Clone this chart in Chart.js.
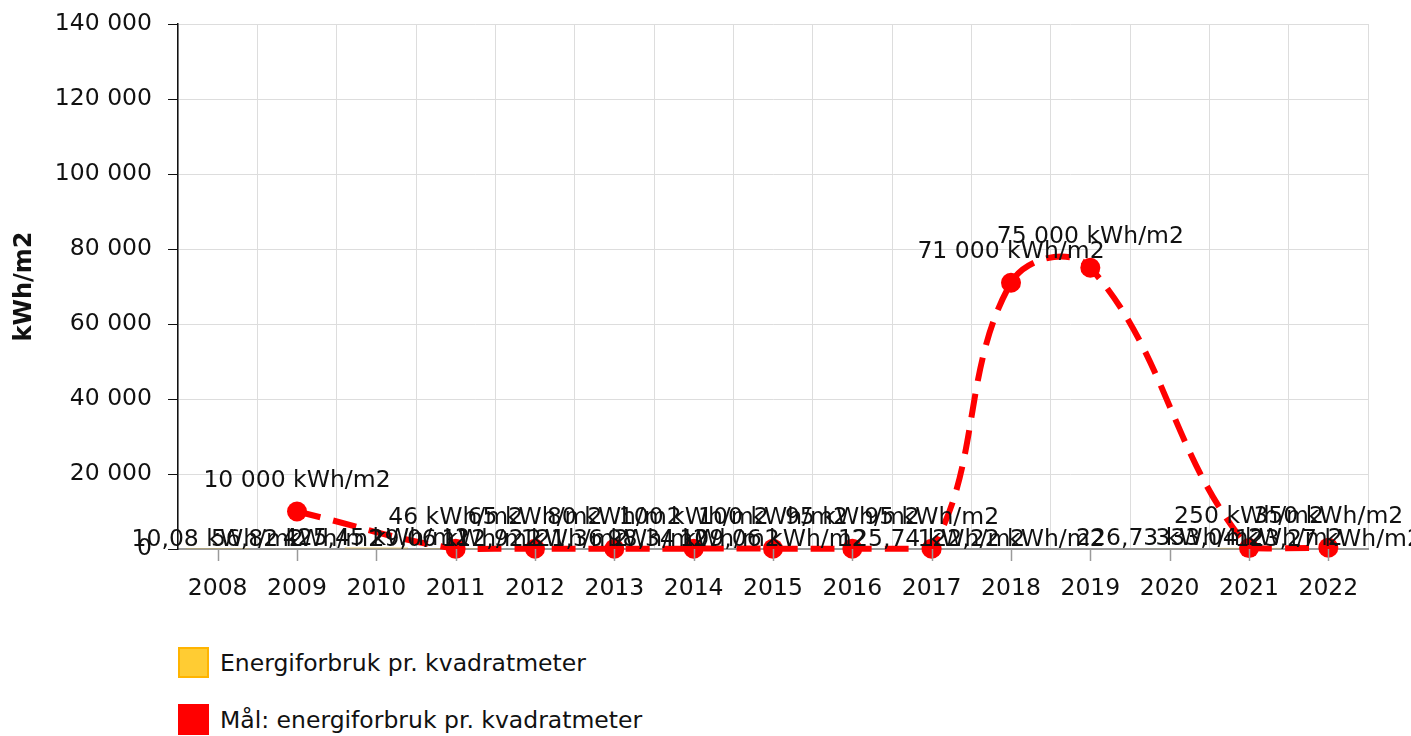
<!DOCTYPE html>
<html>
<head>
<meta charset="utf-8">
<title>Energiforbruk pr. kvadratmeter</title>
<script src="https://cdn.jsdelivr.net/npm/chart.js@4/dist/chart.umd.min.js"></script>
<style>
  body { margin: 0; background: #fff; font-family: 'DejaVu Sans', sans-serif; }
  #wrap { position: absolute; left: 0; top: 0; width: 1411px; height: 620px; }
  .leg { position: absolute; left: 178px; font-size: 23.5px; color: #111; display: flex; align-items: center; }
  .leg span.box { width: 31px; height: 31px; margin-right: 11px; box-sizing: border-box; }
</style>
</head>
<body>
<div id="wrap"><canvas id="chart"></canvas></div>
<div id="legend"></div>
<script>
// ---- data ----
const years = ['2008', '2009', '2010', '2011', '2012', '2013', '2014', '2015',
  '2016', '2017', '2018', '2019', '2020', '2021', '2022']

// Energiforbruk pr. kvadratmeter (kWh/m2), bars
const usage = [10.08, 56.82, 425.45, 29.06, 112.92, 121.36, 98.34, 109.06,
  null, 125.74, 122.22, null, 226.73, 333.04, 123.27]

// Mål: energiforbruk pr. kvadratmeter (kWh/m2), dashed line
const target = [null, 10000, null, 46, 65, 80, 100, 100,
  95, 95, 71000, 75000, null, 250, 350]

const yTicks = { min: 0, max: 140000, step: 20000 }

const FONT = "'DejaVu Sans', sans-serif"
const UNIT = ' kWh/m2'

// 140000 -> "140 000", 10.08 -> "10,08"
const fmt = (v) => {
  if (Number.isInteger(v)) return String(v).replace(/\B(?=(\d{3})+(?!\d))/g, ' ')
  return v.toFixed(2).replace('.', ',')
}

// value labels above every bar / point, drawn on top of everything
const valueLabels = {
  id: 'valueLabels',
  afterDatasetsDraw (chart) {
    const ctx = chart.ctx
    ctx.save()
    ctx.font = '23.5px ' + FONT
    ctx.fillStyle = '#111'
    ctx.textAlign = 'center'
    ctx.textBaseline = 'middle'
    chart.data.datasets.forEach((ds, di) => {
      const meta = chart.getDatasetMeta(di)
      meta.data.forEach((el, i) => {
        const v = ds.data[i]
        if (v == null) return
        const off = ds.type === 'line' ? 31 : 9
        ctx.fillText(fmt(v) + UNIT, el.x, el.y - off)
      })
    })
    ctx.restore()
  }
}

// small tick marks under the x axis, at the category centres
const xTickMarks = {
  id: 'xTickMarks',
  afterDraw (chart) {
    const x = chart.scales.x
    const ctx = chart.ctx
    ctx.save()
    ctx.strokeStyle = '#9a9a9a'
    ctx.lineWidth = 1.5
    years.forEach((_, i) => {
      const px = Math.round(x.getPixelForValue(i)) + 0.5
      ctx.beginPath()
      ctx.moveTo(px, x.top)
      ctx.lineTo(px, x.top + 12)
      ctx.stroke()
    })
    ctx.restore()
  }
}

const datasets = [
  {
    type: 'line',
    label: 'Mål: energiforbruk pr. kvadratmeter',
    data: target,
    borderColor: '#ff0000',
    backgroundColor: '#ff0000',
    borderWidth: 6,
    borderDash: [24, 13],
    tension: 0.4,
    spanGaps: true,
    pointRadius: 10,
    pointBorderWidth: 0,
    fill: false,
    clip: false,
    order: 1
  },
  {
    type: 'bar',
    label: 'Energiforbruk pr. kvadratmeter',
    data: usage,
    backgroundColor: '#ffcc33',
    borderColor: '#d9a300',
    borderWidth: 1,
    barPercentage: 1,
    categoryPercentage: 0.8,
    order: 2
  }
]

/* global Chart */
new Chart(document.getElementById('chart'), {
  data: { labels: years, datasets },
  options: {
    responsive: true,
    maintainAspectRatio: false,
    animation: false,
    layout: { padding: { top: 24, right: 43, left: 0, bottom: 0 } },
    plugins: {
      legend: { display: false },
      tooltip: { enabled: false }
    },
    scales: {
      x: {
        offset: true,
        grid: { color: '#dddddd', offset: true, drawTicks: false },
        border: { color: '#9a9a9a', width: 2 },
        ticks: { color: '#111', padding: 26, font: { family: FONT, size: 23.5 } },
        afterFit: (s) => { s.height = 71 }
      },
      y: {
        min: yTicks.min,
        max: yTicks.max,
        grid: { color: '#dddddd', tickColor: '#111', tickLength: 10 },
        border: { color: '#111', width: 1.5 },
        ticks: {
          stepSize: yTicks.step,
          color: '#111',
          padding: 16,
          font: { family: FONT, size: 23.5 },
          callback: (v) => fmt(v)
        },
        title: {
          display: true,
          text: 'kWh/m2',
          color: '#111',
          padding: { top: 10, bottom: 0 },
          font: { family: FONT, size: 24, weight: 'bold' }
        },
        afterFit: (s) => {
          s.width = 178
          s.paddingTop = 0
        }
      }
    }
  },
  plugins: [valueLabels, xTickMarks]
})

// legend below the chart, stacked vertically
const legend = document.getElementById('legend')
const legendItems = [
  { text: datasets[1].label, fill: '#ffcc33', border: '#ffb400', top: 647 },
  { text: datasets[0].label, fill: '#ff0000', border: '#ff0000', top: 704 }
]
legendItems.forEach((it) => {
  const row = document.createElement('div')
  row.className = 'leg'
  row.style.top = it.top + 'px'
  row.innerHTML = `<span class="box" style="background:${it.fill};border:2px solid ${it.border}"></span>${it.text}`
  legend.appendChild(row)
})
</script>
</body>
</html>
